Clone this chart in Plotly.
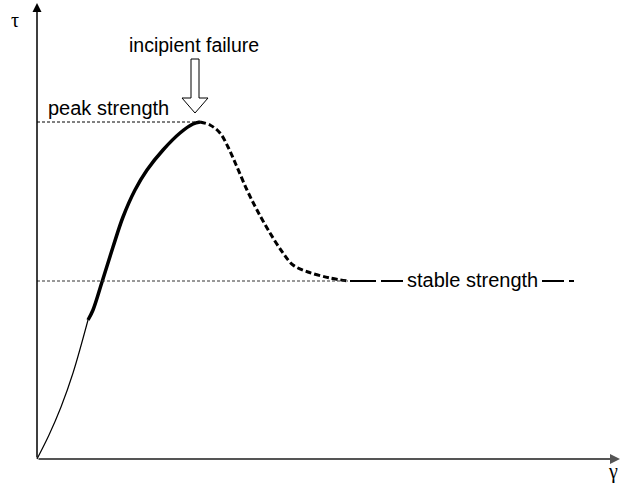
import plotly.graph_objects as go

# curve pieces (gamma, tau), origin at axis corner
thin_x = [0, 12, 24, 36, 51]
thin_y = [0, 24, 52, 86, 139]
thick_x = [51, 56, 65, 76, 86, 98, 110, 126, 143, 156, 163]
thick_y = [139, 149, 177, 212, 242, 269, 289, 309, 326, 335, 337]
soft_x = [163, 173, 183, 191, 200, 210, 220, 233, 246, 256, 271, 293, 311]
soft_y = [337, 334, 326, 312, 292, 269, 249, 226, 206, 194, 187, 181, 178]
res_x = [313, 366]
res_y = [178, 178]
res2_x = [505, 538]
res2_y = [178, 178]
peak_tau = 337
stable_tau = 178

fig = go.Figure()
fig.add_trace(go.Scatter(x=thin_x, y=thin_y, mode="lines", line=dict(color="black", width=1.2, shape="spline")))
fig.add_trace(go.Scatter(x=thick_x, y=thick_y, mode="lines", line=dict(color="black", width=3.5, shape="spline")))
fig.add_trace(go.Scatter(x=soft_x, y=soft_y, mode="lines", line=dict(color="black", width=3, dash="6px,3px", shape="spline")))
fig.add_trace(go.Scatter(x=res_x, y=res_y, mode="lines", line=dict(color="black", width=2, dash="26px,5px")))
fig.add_trace(go.Scatter(x=res2_x, y=res2_y, mode="lines", line=dict(color="black", width=2, dash="22px,5px,5px,50px")))

# reference dotted lines
fig.add_shape(type="line", x0=0, x1=163, y0=peak_tau, y1=peak_tau, line=dict(color="black", width=1, dash="3px,2px"))
fig.add_shape(type="line", x0=0, x1=311, y0=stable_tau, y1=stable_tau, line=dict(color="#333", width=1, dash="3px,2px"))

# hollow arrow
fig.add_shape(type="path", path="M 154,400 L 162,400 L 162,361 L 171,361 L 158,346 L 145,361 L 154,361 Z",
              fillcolor="white", line=dict(color="black", width=1))

# axes
fig.add_annotation(x=583, y=0, ax=0, ay=0, xref="x", yref="y", axref="x", ayref="y", text="",
                   showarrow=True, arrowhead=2, arrowsize=1, arrowwidth=2, arrowcolor="#555")
fig.add_annotation(x=0, y=456, ax=0, ay=0, xref="x", yref="y", axref="x", ayref="y", text="",
                   showarrow=True, arrowhead=2, arrowsize=1.2, arrowwidth=1.5, arrowcolor="black")

fam = "Liberation Sans, Arial"
fig.add_annotation(x=157, y=414, text="incipient failure", showarrow=False, font=dict(family=fam, size=19.5, color="black"))
fig.add_annotation(x=71, y=351, text="peak strength", showarrow=False, font=dict(family=fam, size=20, color="black"))
fig.add_annotation(x=435, y=179, text="stable strength", showarrow=False, font=dict(family=fam, size=20, color="black"))
fig.add_annotation(x=-22, y=439, text="τ", showarrow=False, font=dict(family="Liberation Serif, Times New Roman", size=20, color="black"))
fig.add_annotation(x=576, y=-12, text="γ", showarrow=False, font=dict(family="Liberation Serif, Times New Roman", size=20, color="black"))

fig.update_xaxes(range=[-37, 586], visible=False)
fig.update_yaxes(range=[-30, 459], visible=False)
fig.update_layout(width=623, height=489, margin=dict(l=0, r=0, t=0, b=0),
                  plot_bgcolor="white", paper_bgcolor="white", showlegend=False)
fig.write_html("out.html", config={"displayModeBar": False}, post_script="document.body.style.margin='0';")
